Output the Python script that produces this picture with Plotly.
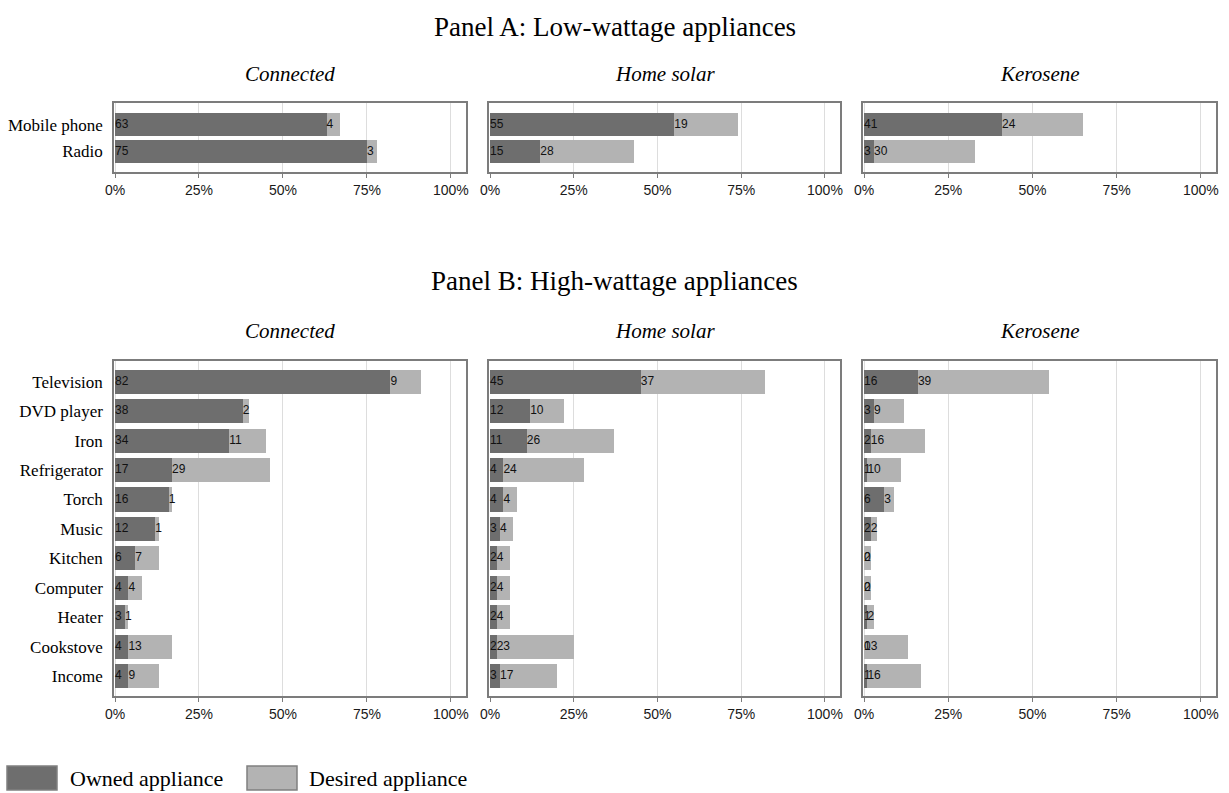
import plotly.graph_objects as go

# ---------------- data ----------------
groups = ["Connected", "Home solar", "Kerosene"]

panel_a_items = ["Mobile phone", "Radio"]
a_owned_connected = [63, 75]
a_desired_connected = [4, 3]
a_owned_solar = [55, 15]
a_desired_solar = [19, 28]
a_owned_kerosene = [41, 3]
a_desired_kerosene = [24, 30]

panel_b_items = ["Television", "DVD player", "Iron", "Refrigerator", "Torch", "Music",
                 "Kitchen", "Computer", "Heater", "Cookstove", "Income"]
b_owned_connected = [82, 38, 34, 17, 16, 12, 6, 4, 3, 4, 4]
b_desired_connected = [9, 2, 11, 29, 1, 1, 7, 4, 1, 13, 9]
b_owned_solar = [45, 12, 11, 4, 4, 3, 2, 2, 2, 2, 3]
b_desired_solar = [37, 10, 26, 24, 4, 4, 4, 4, 4, 23, 17]
b_owned_kerosene = [16, 3, 2, 1, 6, 2, 0, 0, 1, 0, 1]
b_desired_kerosene = [39, 9, 16, 10, 3, 2, 2, 2, 2, 13, 16]

tick_vals = [0, 25, 50, 75, 100]
tick_text = ["0%", "25%", "50%", "75%", "100%"]

panel_titles = ["Panel A: Low-wattage appliances", "Panel B: High-wattage appliances"]
legend_labels = ["Owned appliance", "Desired appliance"]

# ---------------- style / layout ----------------
W, H = 1229, 793
OWN_C = "#6e6e6e"
DES_C = "#b3b3b3"
FRAME_C = "#7c7c7c"
GRID_C = "#dddddd"
SERIF = "Liberation Serif, Times New Roman, serif"
SANS = "Liberation Sans, Arial, sans-serif"

col_px = [(114, 466), (489, 840), (863, 1216)]
panels = [
    dict(items=panel_a_items,
         owned=[a_owned_connected, a_owned_solar, a_owned_kerosene],
         desired=[a_desired_connected, a_desired_solar, a_desired_kerosene],
         top=103, bottom=172, yrange=[1.76, -0.8], width=0.85),
    dict(items=panel_b_items,
         owned=[b_owned_connected, b_owned_solar, b_owned_kerosene],
         desired=[b_desired_connected, b_desired_solar, b_desired_kerosene],
         top=361, bottom=696, yrange=[10.68, -0.71], width=0.82),
]


def px_x(p):
    return p / W


def px_y(p):
    return 1 - p / H


fig = go.Figure()
layout_axes = {}
k = 0
for pi, pan in enumerate(panels):
    for ci in range(3):
        k += 1
        xa = "x" if k == 1 else f"x{k}"
        ya = "y" if k == 1 else f"y{k}"
        owned = pan["owned"][ci]
        desired = pan["desired"][ci]
        items = pan["items"]
        fig.add_trace(go.Bar(x=owned, y=items, orientation="h", xaxis=xa, yaxis=ya,
                             marker=dict(color=OWN_C, line=dict(width=0)),
                             width=pan["width"], showlegend=False, hoverinfo="skip"))
        fig.add_trace(go.Bar(x=desired, y=items, base=owned, orientation="h", xaxis=xa, yaxis=ya,
                             marker=dict(color=DES_C, line=dict(width=0)),
                             width=pan["width"], showlegend=False, hoverinfo="skip"))
        fig.add_trace(go.Scatter(x=[0] * len(items), y=items, mode="text",
                                 text=[str(v) for v in owned], textposition="middle right",
                                 textfont=dict(family=SANS, size=12, color="#111111"),
                                 xaxis=xa, yaxis=ya, showlegend=False, hoverinfo="skip",
                                 cliponaxis=False))
        fig.add_trace(go.Scatter(x=owned, y=items, mode="text",
                                 text=[str(v) for v in desired], textposition="middle right",
                                 textfont=dict(family=SANS, size=12, color="#111111"),
                                 xaxis=xa, yaxis=ya, showlegend=False, hoverinfo="skip",
                                 cliponaxis=False))
        x0, x1 = col_px[ci]
        layout_axes["xaxis" if k == 1 else f"xaxis{k}"] = dict(
            domain=[px_x(x0), px_x(x1)], anchor=ya, range=[-0.3, 104.5], automargin=False,
            tickvals=tick_vals, ticktext=tick_text, showgrid=True, gridcolor=GRID_C,
            gridwidth=1.3, zeroline=False, showline=True, mirror=True, linecolor=FRAME_C,
            linewidth=1.5, ticks="outside", ticklen=4, tickcolor=FRAME_C, tickwidth=1.2,
            tickfont=dict(family=SANS, size=14, color="#1a1a1a"), fixedrange=True)
        layout_axes["yaxis" if k == 1 else f"yaxis{k}"] = dict(
            domain=[px_y(pan["bottom"]), px_y(pan["top"])], anchor=xa, type="category",
            categoryorder="array", categoryarray=items, range=pan["yrange"], automargin=False,
            showgrid=False, zeroline=False, showline=True, mirror=True, linecolor=FRAME_C,
            linewidth=1.5, ticks="", showticklabels=(ci == 0), ticklabelstandoff=6,
            tickfont=dict(family=SERIF, size=17, color="#000000"), fixedrange=True)

annotations = []
# panel titles
for title, yc in zip(panel_titles, [27, 281]):
    annotations.append(dict(text=title, x=0.5, y=px_y(yc), xref="paper", yref="paper",
                            xanchor="center", yanchor="middle", showarrow=False,
                            font=dict(family=SERIF, size=27, color="#000000")))
# group subtitles
for yc in [74, 331]:
    for ci, g in enumerate(groups):
        x0, x1 = col_px[ci]
        annotations.append(dict(text=f"<i>{g}</i>", x=px_x((x0 + x1) / 2), y=px_y(yc),
                                xref="paper", yref="paper", xanchor="center", yanchor="middle",
                                showarrow=False,
                                font=dict(family=SERIF, size=21, color="#000000")))

# legend (swatches + labels)
shapes = []
legend_items = [(7, 57, OWN_C, 68), (247, 297, DES_C, 307)]
for (sx0, sx1, col, tx), lab in zip(legend_items, legend_labels):
    shapes.append(dict(type="rect", xref="paper", yref="paper",
                       x0=px_x(sx0), x1=px_x(sx1), y0=px_y(790), y1=px_y(766),
                       fillcolor=col, line=dict(color="#808080", width=1.5)))
    annotations.append(dict(text=lab, x=px_x(tx), y=px_y(778), xref="paper", yref="paper",
                            xanchor="left", yanchor="middle", showarrow=False,
                            font=dict(family=SERIF, size=22, color="#000000")))

fig.update_layout(
    width=W, height=H, margin=dict(l=0, r=0, t=0, b=0, autoexpand=False),
    paper_bgcolor="white", plot_bgcolor="white", barmode="stack", bargap=0,
    annotations=annotations, shapes=shapes, showlegend=False, **layout_axes)

fig.write_html("out.html", config={"displayModeBar": False},
               post_script="document.body.style.margin='0';document.body.style.overflow='hidden';")
